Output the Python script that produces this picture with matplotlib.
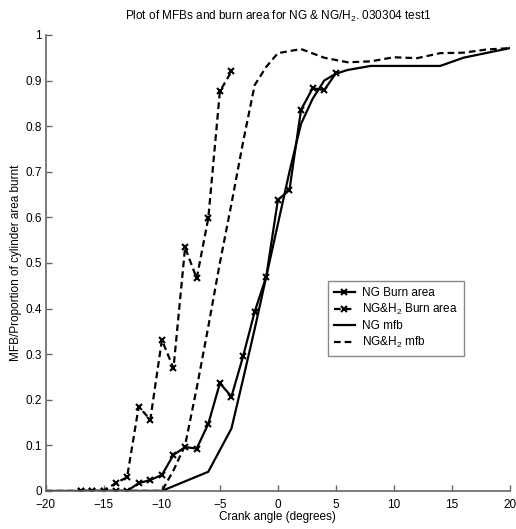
import matplotlib
matplotlib.use("Agg")
import matplotlib.pyplot as plt

plt.rcParams['font.family'] = ['Liberation Sans', 'DejaVu Sans']
plt.rcParams['mathtext.default'] = 'regular'

# burn area measurements (one per crank degree)
ng_burn_x = [-17, -16, -15, -14, -13, -12, -11, -10, -9, -8, -7, -6, -5, -4, -3, -2, -1, 0, 1, 2, 3, 4, 5]
ng_burn_y = [0, 0, 0, 0, 0, 0.017, 0.024, 0.035, 0.079, 0.096, 0.093, 0.147, 0.236, 0.207, 0.295, 0.393, 0.47,
             0.638, 0.66, 0.836, 0.883, 0.879, 0.916]

h2_burn_x = [-17, -16, -15, -14, -13, -12, -11, -10, -9, -8, -7, -6, -5, -4]
h2_burn_y = [0, 0, 0, 0.017, 0.03, 0.185, 0.156, 0.331, 0.269, 0.534, 0.466, 0.598, 0.876, 0.92]

# mass fraction burnt
ng_mfb_x = [-20, -10, -6, -4, -3, -2, -1, 0, 1, 2, 3, 4, 5, 6, 8, 14, 16, 20]
ng_mfb_y = [0, 0, 0.042, 0.137, 0.245, 0.355, 0.47, 0.585, 0.70, 0.805, 0.86, 0.90, 0.915, 0.923, 0.932,
            0.932, 0.95, 0.971]

h2_mfb_x = [-20, -10, -9, -8, -7, -6, -5, -4, -3, -2, -1, 0, 2, 4, 6, 8, 10, 12, 14, 16, 18, 20]
h2_mfb_y = [0, 0, 0.045, 0.1, 0.225, 0.36, 0.5, 0.63, 0.765, 0.89, 0.93, 0.96, 0.969, 0.95, 0.94, 0.942,
            0.951, 0.949, 0.96, 0.961, 0.968, 0.971]

fig = plt.figure(figsize=(5.16, 5.29), dpi=100)
ax = fig.add_axes([0.089, 0.072, 0.899, 0.862])

ax.plot(ng_burn_x, ng_burn_y, '-', color='black', lw=1.6, marker='x', ms=4, mew=1.5, label='NG Burn area')
ax.plot(h2_burn_x, h2_burn_y, '--', color='black', lw=1.6, marker='x', ms=4, mew=1.5, dashes=(3, 1.8),
        label='NG&H$_2$ Burn area')
ax.plot(ng_mfb_x, ng_mfb_y, '-', color='black', lw=1.6, label='NG mfb')
ax.plot(h2_mfb_x, h2_mfb_y, '--', color='black', lw=1.6, dashes=(3, 1.8), label='NG&H$_2$ mfb')

ax.set_xlim(-20, 20)
ax.set_ylim(0, 1)
ax.set_xticks(range(-20, 21, 5))
ax.set_yticks([i / 10 for i in range(11)])
ax.set_yticklabels(['0', '0.1', '0.2', '0.3', '0.4', '0.5', '0.6', '0.7', '0.8', '0.9', '1'])

for s in ['top', 'right']:
    ax.spines[s].set_visible(False)
for s in ['left', 'bottom']:
    ax.spines[s].set_color('#666666')
    ax.spines[s].set_linewidth(1.2)
ax.tick_params(direction='in', length=4, width=1, color='#666666', labelsize=8.5)
ax.tick_params(axis='y', pad=3)
ax.tick_params(axis='x', pad=6)

ax.set_xlabel('Crank angle (degrees)', fontsize=8.5, labelpad=0)
ax.set_ylabel('MFB/Proportion of cylinder area burnt', fontsize=8.5, labelpad=2)
ax.set_title('Plot of MFBs and burn area for NG & NG/H$_2$. 030304 test1', fontsize=8.5, pad=11)

leg = ax.legend(loc='lower left', bbox_to_anchor=(0.595, 0.283), fontsize=8.5, fancybox=False,
                handlelength=1.8, handletextpad=0.6, labelspacing=0.25, borderpad=0.5, framealpha=1)
leg.get_frame().set_edgecolor('#888888')
leg.get_frame().set_linewidth(1.0)

fig.savefig('out.png', dpi=100)
